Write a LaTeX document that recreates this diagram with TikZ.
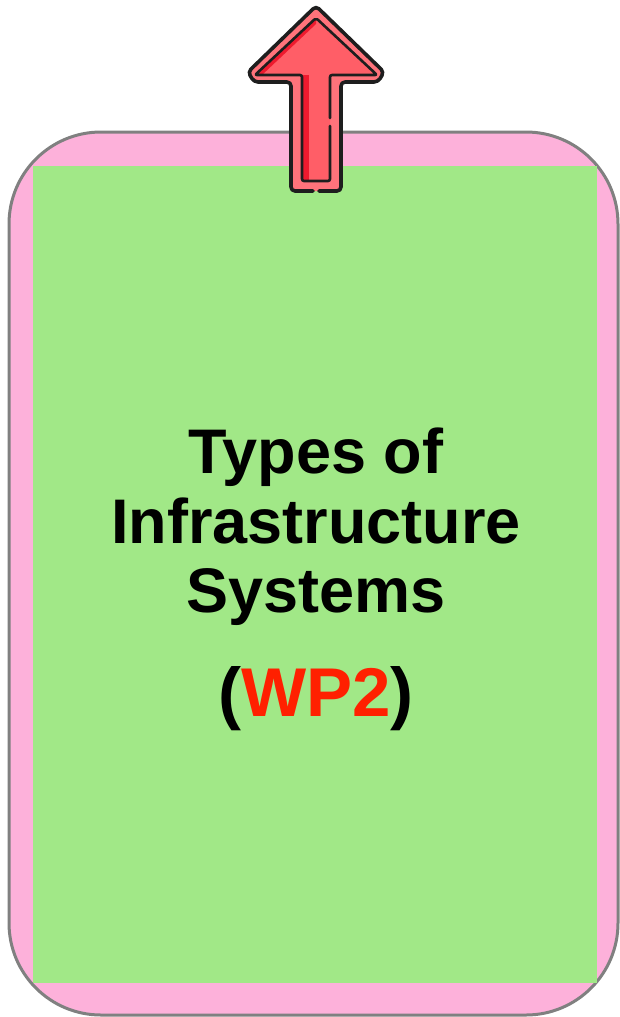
\documentclass[tikz,border=0pt]{standalone}
\usepackage{fontspec}
\setmainfont{Liberation Sans}
\begin{document}
\begin{tikzpicture}[x=1pt,y=-1pt,
  panel/.style={draw=black!50, line width=3pt, fill=pinkfill, rounded corners=92pt},
  inner/.style={fill=greenfill},
  title/.style={anchor=base, font=\bfseries\fontsize{63}{70}\selectfont, text=black, inner sep=0pt},
  tag/.style={anchor=base, font=\bfseries\fontsize{69}{78}\selectfont, text=black, inner sep=0pt},
  outline/.style={draw=arrowline, line width=3.6pt, line join=round, line cap=round},
  thinline/.style={draw=arrowline, line width=2.6pt, line join=round, line cap=round}]
\definecolor{pinkfill}{HTML}{FDB1DA}
\definecolor{greenfill}{HTML}{A1E887}
\definecolor{arrowband}{HTML}{FF737B}
\definecolor{arrowcore}{HTML}{FF5E67}
\definecolor{arrowdark}{HTML}{EE1A2E}
\definecolor{arrowline}{HTML}{1E1E1E}
\definecolor{wpred}{HTML}{FF2000}

\useasboundingbox (0,0) rectangle (620,1017);

% card background and inner panel
\draw[panel] (9,132) rectangle (618,1015);
\fill[inner] (33,166) rectangle (597,983);

% upward arrow: outer body
\fill[arrowband, rounded corners=4pt]
  (316,6) -- (384,72) -- (378,82) -- (341,82) -- (341,191) -- (291,191)
  -- (291,82) -- (254,82) -- (248,72) -- cycle;
% inner core with darker left strip
\fill[arrowcore, rounded corners=2pt]
  (316,18) -- (377,75) -- (330,75) -- (330,181) -- (302,181) -- (302,75)
  -- (255,75) -- cycle;
\fill[arrowdark]
  (316,18) -- (255,75) -- (262,75) -- (316,24) -- cycle;
\fill[arrowdark] (302,75) rectangle (309,181);
% outer outline, small break at the bottom
\draw[outline, rounded corners=4pt]
  (319,191) -- (341,191) -- (341,82) -- (378,82) -- (384,72) -- (316,6)
  -- (248,72) -- (254,82) -- (291,82) -- (291,191) -- (313,191);
% inner outline, small break on the right of the shaft
\draw[thinline, rounded corners=2pt]
  (330,118) -- (330,75) -- (377,75) -- (316,18) -- (255,75) -- (302,75)
  -- (302,181) -- (330,181) -- (330,126);

% title text
\node[title] (l1) at (316,473) {Types of};
\node[title] (l2) at (316,543) {Infrastructure};
\node[title] (l3) at (316,612) {Systems};
\node[tag] (wp) at (316,716) {(\textcolor{wpred}{WP2})};
\end{tikzpicture}
\end{document}
